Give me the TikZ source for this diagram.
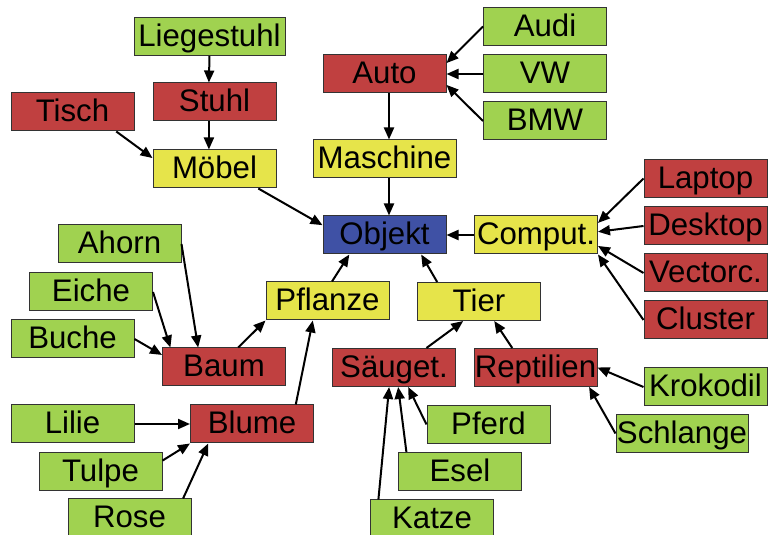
\documentclass[tikz,border=0pt]{standalone}
\usepackage{fontspec}
\setmainfont{Liberation Sans}
\usetikzlibrary{arrows.meta}

\definecolor{leafgreen}{RGB}{160,210,80}
\definecolor{subred}{RGB}{192,64,64}
\definecolor{catyellow}{RGB}{230,228,74}
\definecolor{rootblue}{RGB}{63,81,165}

\tikzset{
	box/.style={draw=black!80, line width=0.5pt, inner sep=0pt, minimum width=61.5pt, minimum height=19pt, text height=11pt, text depth=1pt, font=\fontsize{15.6}{19}\selectfont},
	leaf/.style={box, fill=leafgreen},
	sub/.style={box, fill=subred},
	cat/.style={box, fill=catyellow},
	root/.style={box, fill=rootblue},
}

\begin{document}
\begin{tikzpicture}[x=0.5pt, y=-0.5pt, line width=1pt, >={Triangle[length=6pt,width=5pt]}]
				\clip (0,0) rectangle (768,535);
				
				\node[root]                               (objekt) at (384.5,235) {Objekt};
				
				% Moebel
				\node[cat]                               (moebel) at (214.5,169) {Möbel};
				\node[sub]                               (stuhl) at (214.5,102) {Stuhl};
				\node[sub]                               (tisch) at (72.5,112) {Tisch};
				\node[leaf, minimum width=75.5pt]        (liege) at (209.5,36.5) {Liegestuhl};
				
				% Maschine
				\node[cat, minimum width=71.5pt]         (maschine) at (384.5,159) {Maschine};
				\node[sub]                               (auto) at (384.5,74) {Auto};
				\node[leaf]                              (audi) at (545,26.5) {Audi};
				\node[leaf]                              (vw) at (545,74) {VW};
				\node[leaf]                              (bmw) at (545,121) {BMW};
				
				% Computer
				\node[cat]                               (comput) at (536,235) {Comput.};
				\node[sub]                               (laptop) at (705.5,178.5) {Laptop};
				\node[sub]                               (desktop) at (705.5,226) {Desktop};
				\node[sub]                               (vector) at (705.5,273) {Vectorc.};
				\node[sub]                               (cluster) at (705.5,320) {Cluster};
				
				% Pflanze
				\node[cat]                               (pflanze) at (327.5,301) {Pflanze};
				\node[sub]                               (baum) at (224,367) {Baum};
				\node[leaf]                              (ahorn) at (119.5,244) {Ahorn};
				\node[leaf]                              (eiche) at (91,292) {Eiche};
				\node[leaf]                              (buche) at (72.5,339) {Buche};
				\node[sub]                               (blume) at (252,424) {Blume};
				\node[leaf]                              (lilie) at (72.5,424) {Lilie};
				\node[leaf]                              (tulpe) at (100.5,471.5) {Tulpe};
				\node[leaf]                              (rose) at (129.5,518) {Rose};
				
				% Tier
				\node[cat]                               (tier) at (479,301.5) {Tier};
				\node[sub]                               (saeuget) at (394,367.5) {Säuget.};
				\node[sub]                               (reptil) at (535.5,367.5) {Reptilien};
				\node[leaf]                              (pferd) at (488.5,424.5) {Pferd};
				\node[leaf]                              (esel) at (460,471.5) {Esel};
				\node[leaf]                              (katze) at (432,519) {Katze};
				\node[leaf]                              (krokodil) at (705.5,387) {Krokodil};
				\node[leaf, minimum width=66pt]          (schlange) at (682,433.5) {Schlange};
				
				\draw[->] (liege.south) -- (stuhl.106);
				\draw[->] (stuhl.-106) -- (moebel.106);
				\draw[->] (tisch.-24) -- (moebel.170);
				\draw[->] (moebel.-24) -- (objekt.171);
				
				\draw[->] (audi.west) -- (auto.10);
				\draw[->] (vw.west) -- (auto.east);
				\draw[->] (bmw.west) -- (auto.-10);
				\draw[->] (auto.-77) -- (maschine.77);
				\draw[->] (maschine.-77) -- (objekt.77);
				
				\draw[->] (laptop.west) -- (comput.11);
				\draw[->] (desktop.west) -- (comput.3);
				\draw[->] (vector.west) -- (comput.-10);
				\draw[->] (cluster.west) -- (comput.south east);
				\draw[->] (comput.west) -- (objekt.east);
				
				\draw[->] (ahorn.east) -- (baum.143);
				\draw[->] (eiche.east) -- (baum.160);
				\draw[->] (buche.east) -- (baum.169);
				\draw[->] (baum.54) -- (pflanze.south west);
				\draw[->] (lilie.east) -- (blume.west);
				\draw[->] (tulpe.10) -- (blume.south west);
				\draw[->] (rose.20) -- (blume.-156);
				\draw[->] (blume.24) -- (pflanze.-127);
				\draw[->] (pflanze.77) -- (objekt.-151);
				
				\draw[->] (pferd.west) -- (saeuget.-54);
				\draw[->] (esel.160) -- (saeuget.-78);
				\draw[->] (katze.160) -- (saeuget.-104);
				\draw[->] (krokodil.west) -- (reptil.east);
				\draw[->] (schlange.west) -- (reptil.-20);
				\draw[->] (saeuget.31) -- (tier.-129);
				\draw[->] (reptil.140) -- (tier.-52);
				\draw[->] (tier.155) -- (objekt.-28);
				
			\end{tikzpicture}
\end{document}
